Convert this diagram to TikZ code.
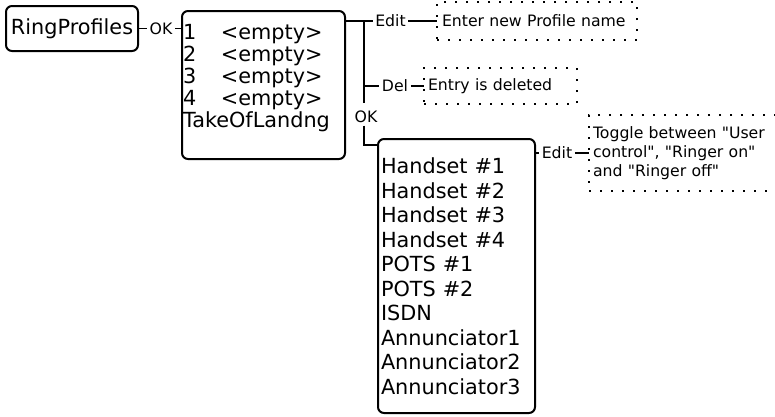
\documentclass[tikz,border=0pt]{standalone}
\usepackage{fontspec}
\setmainfont{DejaVu Sans}[Ligatures=TeXOff]
\usetikzlibrary{positioning}

\newcommand{\menufont}{\fontsize{20.8}{22}\selectfont}
\newcommand{\notefont}{\fontsize{15.7}{19}\selectfont}

\begin{document}
\begin{tikzpicture}[x=1pt, y=-1pt,
    menubox/.style={rectangle, draw, line width=2pt, rounded corners=6pt, outer sep=0pt,
                    font=\menufont, inner ysep=0pt},
    notebox/.style={rectangle, draw, line width=2pt, dash pattern=on 2pt off 9pt,
                    outer sep=0pt, font=\notefont, align=left, inner ysep=0pt},
    keylabel/.style={font=\notefont, inner sep=2.5pt},
    link/.style={line width=1.6pt}]
  \useasboundingbox (0,0) rectangle (775,416);

  \node[menubox, anchor=north west, minimum width=132pt, minimum height=45pt, inner xsep=0pt]
    (ringprof) at (6,6) {RingProfiles};
  \node[menubox, anchor=north west, text width=161pt, align=left, inner xsep=1pt, minimum height=148pt]
    (profiles) at (182,11) {\makebox[38pt][l]{1}<empty>\\
      \makebox[38pt][l]{2}<empty>\\
      \makebox[38pt][l]{3}<empty>\\
      \makebox[38pt][l]{4}<empty>\\
      TakeOfLandng\rule[-18pt]{0pt}{1pt}};
  \node[menubox, anchor=north west, text width=151pt, align=left, inner xsep=3pt, minimum height=274pt,
        font=\fontsize{20.8}{24.5}\selectfont]
    (handsets) at (378,139) {Handset \#1\\ Handset \#2\\ Handset \#3\\ Handset \#4\\
      POTS \#1\\ POTS \#2\\ ISDN\\ Annunciator1\\ Annunciator2\\ Annunciator3};

  \node[notebox, anchor=north west, minimum width=200pt, minimum height=38pt, text width=190pt, inner xsep=5pt]
    (newname) at (437,2) {Enter new Profile name};
  \node[notebox, anchor=north west, minimum width=153pt, minimum height=36pt, text width=145pt, inner xsep=4pt]
    (deleted) at (424,68) {Entry is deleted};
  \node[notebox, anchor=north west, minimum width=215pt, minimum height=76pt, text width=207pt, inner xsep=4pt]
    (toggle) at (589,115) {Toggle between "User\\control", "Ringer on"\\and "Ringer off"};

  \node[keylabel] (ok1) at (161,28.5) {OK};
  \node[keylabel] (edit1) at (390.5,21) {Edit};
  \node[keylabel] (del) at (395,86) {Del};
  \node[keylabel] (ok2) at (366,117) {OK};
  \node[keylabel] (edit2) at (557,153) {Edit};

  \coordinate (fork) at (364,21);
  \coordinate (forkend) at (364,103);
  \coordinate (bend) at (364,145);

  \draw[link] (ringprof) -- (ok1) -- (ok1 -| profiles.west);
  \draw[link] (fork -| profiles.east) -- (edit1);
  \draw[link] (edit1) -- (edit1 -| newname.west);
  \draw[link] (fork) -- (forkend);
  \draw[link] (fork |- del) -- (del);
  \draw[link] (del) -- (del -| deleted.west);
  \draw[link] (ok2.south -| fork) -- (bend) -- (bend -| handsets.west);
  \draw[link] (edit2 -| handsets.east) -- (edit2) -- (edit2 -| toggle.west);
\end{tikzpicture}
\end{document}
